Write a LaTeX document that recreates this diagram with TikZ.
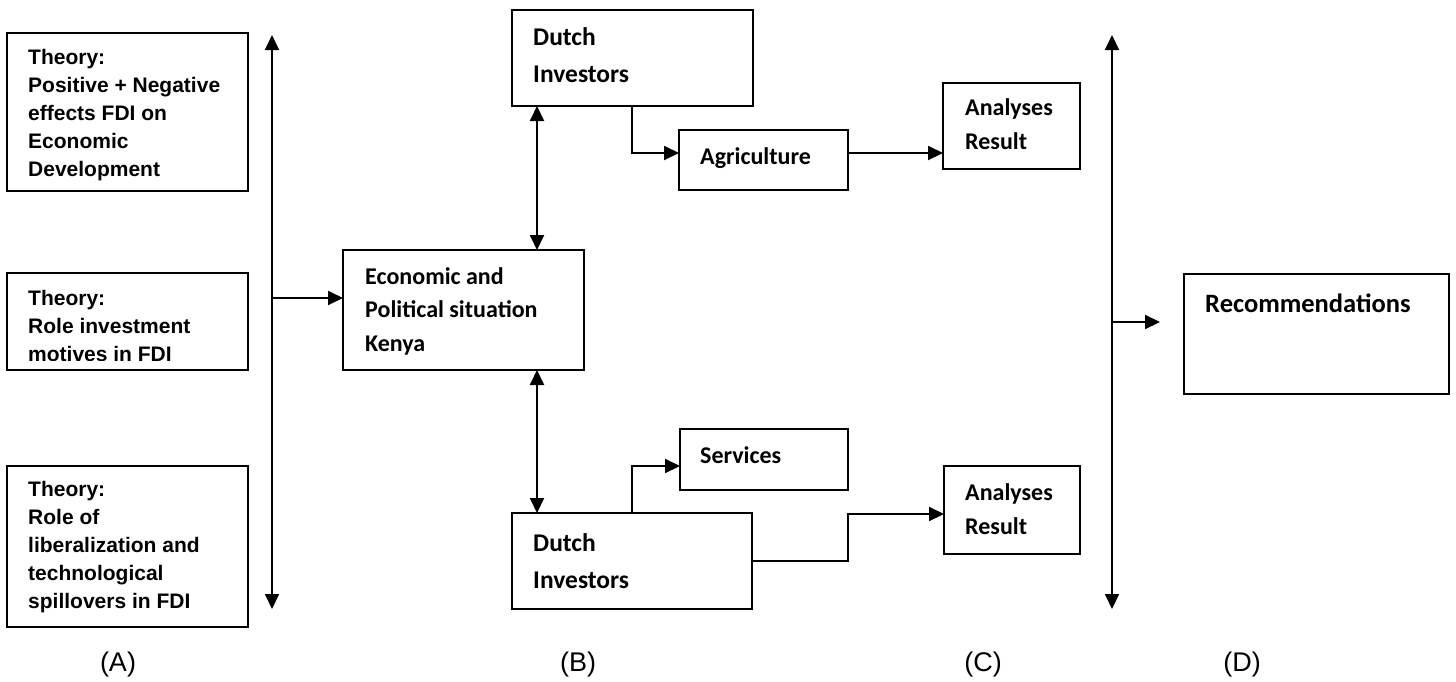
\documentclass[tikz,border=0pt]{standalone}
\usepackage{fontspec}
\usetikzlibrary{arrows.meta}
\newfontfamily\arialf{Liberation Sans}
\newfontfamily\calibf{Carlito}
\newcommand\mylines[1]{\begin{tabular}[t]{@{}l@{}}#1\end{tabular}}
\newcommand\mybox[5]{\node[box, minimum width={(#4-#2)*1pt}, minimum height={(#5-#3)*1pt}] (#1) at ({(#2+#4)/2},{(#3+#5)/2}) {};}
\tikzset{
  box/.style={draw, line width=2pt, inner sep=0pt, outer sep=0pt, rectangle},
  conn/.style={line width=2pt},
  arr/.style={conn, -{Triangle[length=15pt,width=14pt]}},
  darr/.style={conn, {Triangle[length=15pt,width=14pt]}-{Triangle[length=15pt,width=14pt]}},
  ttxt/.style={anchor=base west, inner sep=0pt, font=\arialf\bfseries\fontsize{21}{28.2}\selectfont},
  ctxt/.style={anchor=base west, inner sep=0pt, font=\calibf\bfseries\fontsize{24}{34}\selectfont},
  dtxt/.style={anchor=base west, inner sep=0pt, font=\calibf\bfseries\fontsize{25.5}{37}\selectfont},
  lab/.style={anchor=center, inner sep=0pt, font=\arialf\fontsize{27}{30}\selectfont}
}
\begin{document}
\begin{tikzpicture}[x=1pt,y=-1pt]
\useasboundingbox (0,0) rectangle (1456,681);
\fill[white] (0,0) rectangle (1456,681);
% boxes
\mybox{a1}{7}{33}{248}{191}
\mybox{a2}{7}{273}{248}{370}
\mybox{a3}{7}{466}{248}{627}
\mybox{econ}{343}{250}{584}{370}
\mybox{dutcha}{512}{10}{753}{106}
\mybox{agri}{679}{130}{848}{190}
\mybox{ana}{943}{83}{1080}{169}
\mybox{svc}{680}{429}{848}{490}
\mybox{dutchb}{512}{513}{752}{609}
\mybox{anb}{944}{466}{1080}{554}
\mybox{rec}{1184}{274}{1449}{394}
% texts
\node[ttxt] (a1t) at (28,64) {\mylines{Theory:\\Positive + Negative\\effects FDI on\\Economic\\Development}};
\begin{scope}
\clip (0,250) rectangle (300,360);
\node[ttxt] (a2t) at (28,305) {\mylines{Theory:\\Role investment\\motives in FDI}};
\end{scope}
\node[ttxt] (a3t) at (28,496) {\mylines{Theory:\\Role of\\liberalization and\\technological\\spillovers in FDI}};
\node[ctxt, font=\calibf\bfseries\fontsize{24}{33.5}\selectfont] (econt) at (365,284) {\mylines{Economic and\\Political situation\\Kenya}};
\node[dtxt] (dutchat) at (533,45) {\mylines{Dutch\\Investors}};
\node[dtxt] (dutchbt) at (533,551) {\mylines{Dutch\\Investors}};
\node[ctxt] (agrit) at (700,164) {Agriculture};
\node[ctxt] (svct) at (700,463) {Services};
\node[ctxt] (anat) at (965,115) {\mylines{Analyses\\Result}};
\node[ctxt] (anbt) at (965,500) {\mylines{Analyses\\Result}};
\node[ctxt, font=\calibf\bfseries\fontsize{26.5}{30}\selectfont] (rect) at (1205,312) {Recommendations};
% labels
\node[lab] (la) at (118,665) {(A)};
\node[lab] (lb) at (578,665) {(B)};
\node[lab] (lc) at (983,665) {(C)};
\node[lab] (ld) at (1242,665) {(D)};
% connector helpers
\coordinate (ltop) at (272,35);
\coordinate (lbot) at (272,609);
\coordinate (lmid) at (272,298);
\coordinate (rtop) at (1112,35);
\coordinate (rbot) at (1112,609);
\coordinate (rmid) at (1112,322);
\coordinate (rend) at (1160,322);
\coordinate (cx1) at (537,0);
\coordinate (cx2) at (632,0);
\coordinate (ya) at (0,153);
\coordinate (yb) at (0,466);
\coordinate (k1) at (848,561);
\coordinate (k2) at (848,514);
% connectors
\draw[darr] (ltop) -- (lbot);
\draw[arr] (lmid) -- (lmid -| econ.west);
\draw[darr] (dutcha.south -| cx1) -- (econ.north -| cx1);
\draw[darr] (econ.south -| cx1) -- (dutchb.north -| cx1);
\draw[arr] (dutcha.south -| cx2) |- (agri.west |- ya);
\draw[arr] (agri.east |- ya) -- (ana.west |- ya);
\draw[arr] (dutchb.north -| cx2) |- (svc.west |- yb);
\draw[arr] (dutchb.east |- k1) -- (k1) -- (k2) -- (anb.west |- k2);
\draw[darr] (rtop) -- (rbot);
\draw[arr] (rmid) -- (rend);
\end{tikzpicture}
\end{document}
